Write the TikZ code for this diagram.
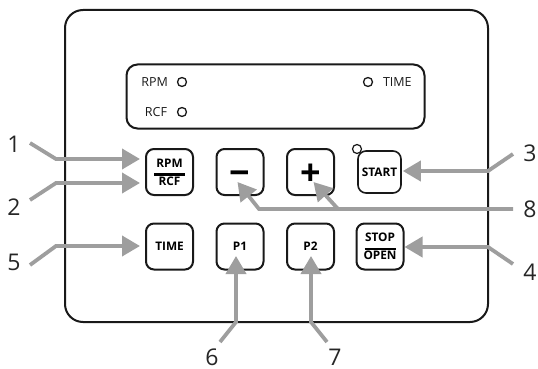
\documentclass[tikz,border=0pt]{standalone}
\usepackage{fontspec}
\setmainfont{Open Sans}
\usetikzlibrary{arrows.meta}
\definecolor{calloutgray}{gray}{0.62}
\definecolor{linedark}{gray}{0.1}

\begin{document}
\begin{tikzpicture}[x=1pt, y=-1pt, node distance={70.5pt}, line width=2pt, draw=linedark,
    panel/.style = {draw, rounded corners=18pt},
    main/.style = {draw, rounded corners=8pt, minimum width=47pt, minimum height=46pt, inner sep=0pt, align=center, font=\fontsize{11.8}{12.5}\bfseries\selectfont},
    big/.style = {font=\fontsize{36}{36}\bfseries\selectfont},
    led/.style = {draw, circle, line width=1.3pt, minimum size=9pt, inner sep=0pt},
    lab/.style = {font=\fontsize{12.5}{14}\selectfont, text=linedark, inner sep=0pt},
    num/.style = {font=\fontsize{23}{24}\selectfont, text=black!85, inner sep=0pt},
    callout/.style = {draw=calloutgray, line width=3.8pt, -{Triangle[length=18pt,width=20pt]}}]
    \useasboundingbox (0,0) rectangle (538,369);

    % panel and display
    \node[panel, minimum width=423pt, minimum height=312pt] (front) at (276.5,166) {};
    \node[panel, rounded corners=11pt, minimum width=298pt, minimum height=64pt] (display) at (275.5,96.5) {};
    \node[led] (ledrpm) at (182,82) {};
    \node[led] (ledrcf) at (182,112) {};
    \node[led] (ledtime) at (368,82) {};
    \node[lab, anchor=east] (txtrpm) at (169,82) {RPM};
    \node[lab, anchor=east] (txtrcf) at (168,112) {RCF};
    \node[lab, anchor=west] (txttime) at (382,82) {TIME};

    % buttons
    \node[main] (rpm) at (169.5,172) {RPM\\[-4pt]\rule{31pt}{2.6pt}\\[-3pt]RCF};
    \node[main, big] (minus) [right of=rpm] {\raisebox{-13pt}[0pt][0pt]{−}};
    \node[main, big] (plus) [right of=minus] {\raisebox{-13pt}[0pt][0pt]{+}};
    \node[main, minimum width=43pt, minimum height=42pt, line width=1.6pt] (start) at (379.5,172) {START};
    \node[led, line width=1.2pt] (ledstart) at (357,149) {};
    \node[main] (time) at (169.5,246.5) {TIME};
    \node[main] (pone) [right of=time] {P1};
    \node[main] (ptwo) [right of=pone] {P2};
    \node[main] (stop) at (380,246.5) {STOP\\[-4pt]\rule{31pt}{2.6pt}\\[-3pt]OPEN};

    % numbers
    \node[num] (n1) at (14,144) {1};
    \node[num] (n2) at (14,207) {2};
    \node[num] (n3) at (530,153) {3};
    \node[num] (n4) at (530,272) {4};
    \node[num] (n5) at (14,262) {5};
    \node[num] (n6) at (212,357.5) {6};
    \node[num] (n7) at (335,357.5) {7};
    \node[num] (n8) at (530,209) {8};

    % callout ends and bends
    \coordinate (s1) at (30,143);
    \coordinate (b1) at (56,159);
    \coordinate (s2) at (30,200);
    \coordinate (b2) at (56,183);
    \coordinate (s3) at (513,154);
    \coordinate (b3) at (488,171);
    \coordinate (s4) at (513,264);
    \coordinate (b4) at (488,247);
    \coordinate (s5) at (30,265);
    \coordinate (b5) at (56,246);
    \coordinate (s6) at (220,342);
    \coordinate (b6) at (236,322);
    \coordinate (s7) at (327,342);
    \coordinate (b7) at (311,322);
    \coordinate (s8) at (513,209);
    \coordinate (b8) at (338,209);
    \coordinate (c8) at (259,209);

    \draw[callout, shorten >=5pt] (s1) -- (b1) -- (b1 -| rpm.west);
    \draw[callout, shorten >=5pt] (s2) -- (b2) -- (b2 -| rpm.west);
    \draw[callout, shorten >=1pt] (s3) -- (b3) -- (b3 -| start.east);
    \draw[callout] (s4) -- (b4) -- (b4 -| stop.east);
    \draw[callout, shorten >=5pt] (s5) -- (b5) -- (b5 -| time.west);
    \draw[callout, shorten >=9.5pt] (s6) -- (b6) -- (b6 |- pone.center);
    \draw[callout, shorten >=9.5pt] (s7) -- (b7) -- (b7 |- ptwo.center);
    \draw[callout] (s8) -- (b8) -- ([xshift=3pt,yshift=-10pt]plus.center);
    \draw[callout] (b8) -- (c8) -- ([xshift=-2.5pt,yshift=-10pt]minus.center);
\end{tikzpicture}
\end{document}
